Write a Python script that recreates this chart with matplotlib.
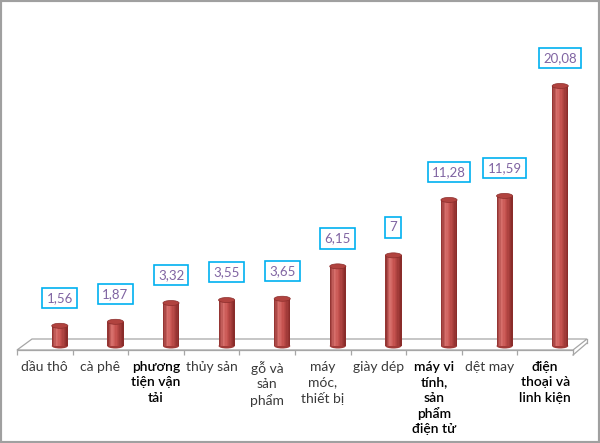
import numpy as np
import matplotlib
matplotlib.use("Agg")
import matplotlib.pyplot as plt
from matplotlib.patches import Ellipse, Polygon, Rectangle
from matplotlib.colors import LinearSegmentedColormap

plt.rcParams['font.family'] = ['Lato', 'Noto Sans', 'DejaVu Sans']

categories = ["dầu thô", "cà phê", "phương\ntiện vận\ntải", "thủy sản",
              "gỗ và\nsản\nphẩm", "máy\nmóc,\nthiết bị", "giày dép",
              "máy vi\ntính,\nsản\nphẩm\nđiện tử", "dệt may",
              "điện\nthoại và\nlinh kiện"]
values = [1.56, 1.87, 3.32, 3.55, 3.65, 6.15, 7, 11.28, 11.59, 20.08]
value_labels = ["1,56", "1,87", "3,32", "3,55", "3,65", "6,15", "7",
                "11,28", "11,59", "20,08"]
bold_labels = [False, False, True, False, False, False, False, True, False, True]

W, H = 600, 443
fig = plt.figure(figsize=(W / 100, H / 100), dpi=100)
fig.patch.set_facecolor('white')

# axes: x from 17 to 573 px, y from 350 (bottom) to 20 px (top)
ax = fig.add_axes([17 / W, (H - 350) / H, 556 / W, 330 / H])
ax.patch.set_visible(False)
px_per_unit = 12.95
ybot = -4 / px_per_unit
ax.set_xlim(-0.5, 9.5)
ax.set_ylim(ybot, ybot + 330 / px_per_unit)

# floor (3D look) in figure pixel coordinates
def fpx(x, y):
    return (x / W, 1 - y / H)

floor = Polygon([fpx(17, 350), fpx(573, 350), fpx(587, 339), fpx(32, 339)],
                closed=True, transform=fig.transFigure, facecolor='white',
                edgecolor='#A6A6A6', lw=0.9, zorder=-1)
fig.add_artist(floor)
fig.add_artist(plt.Line2D([587 / W, 587 / W], [1 - 339 / H, 1 - 343 / H],
                          transform=fig.transFigure, color='#A6A6A6', lw=0.9, zorder=-1))
fig.add_artist(plt.Line2D([573 / W, 587 / W], [1 - 355 / H, 1 - 343 / H],
                          transform=fig.transFigure, color='#A6A6A6', lw=0.9, zorder=-1))

# cylinder bars
x = np.arange(len(categories))
depth_off = 0.27
bw = 0.29
cmap = LinearSegmentedColormap.from_list(
    'cyl', [(0.0, '#8B2D2B'), (0.3, '#D9716D'), (0.55, '#C4514E'), (1.0, '#852927')])
N = 12
xb = x + depth_off
eh = 5 / px_per_unit
for i in range(len(values)):
    ax.add_patch(Ellipse((xb[i], 0), bw, eh, facecolor='#A13B38', edgecolor='none', zorder=2))
for k in range(N):
    sw = bw / N
    pos = xb - bw / 2 + sw * (k + 0.5)
    ax.bar(pos, values, width=sw * 1.05, bottom=0, color=cmap((k + 0.5) / N),
           edgecolor='none', zorder=3)
for i in range(len(values)):
    ax.add_patch(Ellipse((xb[i], values[i]), bw, eh, facecolor='#B1433F',
                         edgecolor='#8B2D2B', lw=0.5, zorder=4))
    ax.annotate(value_labels[i], xy=(xb[i], values[i]), xytext=(0, 28),
                textcoords='offset pixels', ha='center', va='center',
                fontsize=9.5, color='#8064A2', zorder=5,
                bbox=dict(boxstyle='square,pad=0.32', fc='white', ec='#00B0F0', lw=1.2))

# axis styling
for s in ['top', 'right', 'left']:
    ax.spines[s].set_visible(False)
ax.spines['bottom'].set_color('#A6A6A6')
ax.spines['bottom'].set_linewidth(0.9)
ax.set_yticks([])
ax.set_xticks(x)
ax.set_xticklabels(categories, fontsize=10, linespacing=1.32)
ax.set_xticks(np.arange(-0.5, 10, 1), minor=True)
ax.tick_params(axis='x', which='major', length=0, pad=8)
ax.tick_params(axis='x', which='minor', length=3.6, width=0.9, color='#A6A6A6')
for lbl, b in zip(ax.get_xticklabels(), bold_labels):
    lbl.set_multialignment('center')
    if b:
        lbl.set_fontweight('semibold')
        lbl.set_color('black')
    else:
        lbl.set_color('#3A3A3A')

# outer border
fig.add_artist(Rectangle((0, 0), 1, 1, transform=fig.transFigure, fill=False,
                         edgecolor='#A0A0A0', lw=3, zorder=10))

fig.savefig('out.png', dpi=100)
